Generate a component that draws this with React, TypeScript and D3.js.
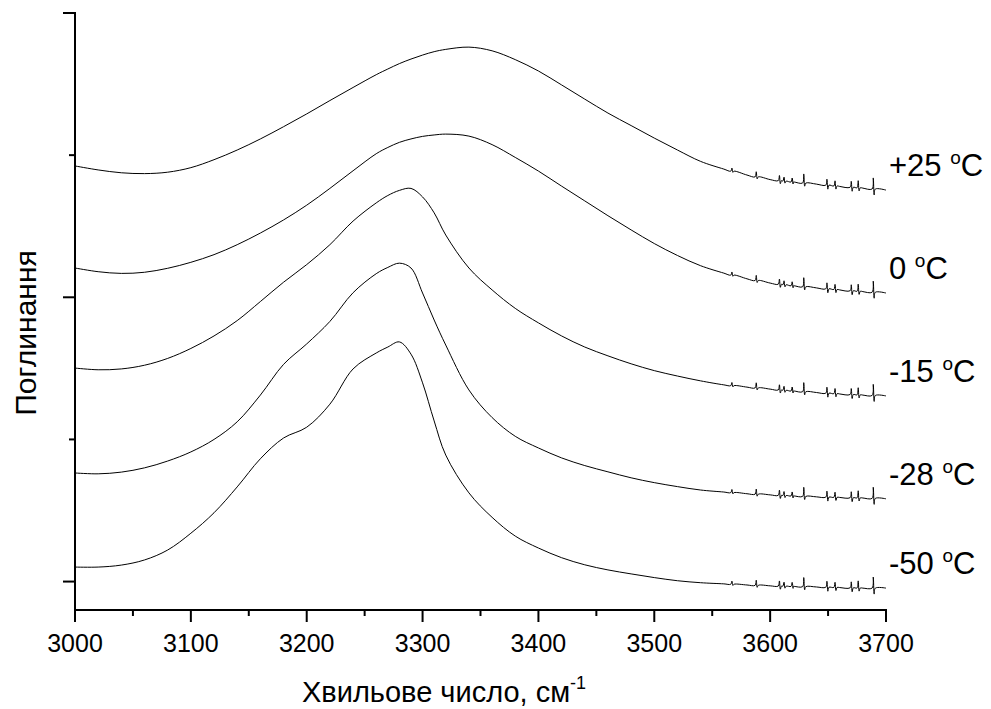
import React from "react";
import * as d3 from "d3";

const layout = {
    width: 991,
    height: 709,
    left: 75,
    right: 886,
    top: 13,
    bottom: 610
};

// wavenumbers, cm-1
const wavenumbers = [
    3000, 3020, 3040, 3060, 3080, 3100, 3120, 3140, 3160, 3180, 3200, 3220,
    3240, 3260, 3270, 3280, 3290, 3300, 3310, 3320, 3340, 3360, 3380, 3400,
    3420, 3440, 3460, 3480, 3500, 3520, 3540, 3560, 3580, 3600, 3620, 3640,
    3660, 3680, 3700
];

// absorbance (stacked, arbitrary units)
const absPlus25 = [
    1.462, 1.448, 1.438, 1.435, 1.440, 1.456, 1.484, 1.518, 1.557, 1.600, 1.645, 1.692,
    1.738, 1.783, 1.803, 1.822, 1.838, 1.852, 1.864, 1.872, 1.880, 1.867, 1.836, 1.796,
    1.747, 1.697, 1.648, 1.604, 1.560, 1.518, 1.478, 1.451, 1.430, 1.414, 1.405, 1.398,
    1.390, 1.384, 1.377
];
const absZero = [
    1.103, 1.090, 1.084, 1.088, 1.102, 1.123, 1.150, 1.185, 1.226, 1.272, 1.324, 1.383,
    1.445, 1.505, 1.527, 1.545, 1.557, 1.566, 1.571, 1.574, 1.567, 1.537, 1.492, 1.444,
    1.391, 1.339, 1.287, 1.237, 1.189, 1.147, 1.111, 1.085, 1.065, 1.050, 1.040, 1.033,
    1.026, 1.020, 1.015
];
const absMinus15 = [
    0.751, 0.745, 0.748, 0.761, 0.785, 0.820, 0.864, 0.918, 0.985, 1.053, 1.115, 1.185,
    1.268, 1.332, 1.358, 1.376, 1.383, 1.353, 1.297, 1.219, 1.103, 1.026, 0.961, 0.910,
    0.864, 0.825, 0.794, 0.766, 0.742, 0.723, 0.706, 0.692, 0.684, 0.677, 0.670, 0.665,
    0.660, 0.656, 0.653
];
const absMinus28 = [
    0.382, 0.379, 0.385, 0.400, 0.424, 0.456, 0.500, 0.562, 0.656, 0.764, 0.836, 0.915,
    1.016, 1.083, 1.105, 1.120, 1.103, 1.015, 0.920, 0.832, 0.674, 0.577, 0.511, 0.470,
    0.435, 0.408, 0.386, 0.365, 0.348, 0.334, 0.322, 0.315, 0.309, 0.305, 0.301, 0.298,
    0.296, 0.294, 0.291
];
const absMinus50 = [
    0.051, 0.051, 0.058, 0.076, 0.111, 0.170, 0.242, 0.333, 0.432, 0.505, 0.543, 0.624,
    0.748, 0.804, 0.825, 0.843, 0.800, 0.699, 0.565, 0.445, 0.312, 0.226, 0.160, 0.118,
    0.084, 0.059, 0.041, 0.027, 0.014, 0.003, -0.004, -0.008, -0.012, -0.015, -0.017, -0.019,
    -0.021, -0.023, -0.023
];

const temperatures = ["+25", "0", "-15", "-28", "-50"];
const spectra = [absPlus25, absZero, absMinus15, absMinus28, absMinus50];

// water vapour lines seen on every trace
const vaporLines = [3567, 3588, 3608, 3612, 3619, 3629, 3649, 3656, 3670, 3676, 3689];
const vaporUp = [0.011, 0.018, 0.018, 0.014, 0.014, 0.032, 0.021, 0.018, 0.021, 0.025, 0.039];
const vaporDown = [0.004, 0.007, 0.011, 0.007, 0.007, 0.011, 0.014, 0.011, 0.014, 0.011, 0.021];

const xMajor = d3.range(3000, 3701, 100);
const xMinor = d3.range(3050, 3700, 100);
const yMajor = [0, 1, 2];
const yMinor = [0.5, 1.5];

const font = "Liberation Sans, Arial, Helvetica, sans-serif";

function App() {
    const xScale = d3.scaleLinear().domain([3000, 3700]).range([layout.left, layout.right]);
    const yScale = d3.scaleLinear().domain([-0.1, 2.0]).range([layout.bottom, layout.top]);

    const lineGenerator = d3
        .line<[number, number]>()
        .x(d => xScale(d[0]))
        .y(d => yScale(d[1]))
        .curve(d3.curveCatmullRom.alpha(0.5));

    const lines = spectra.map((values, key) => {
        const base = d3.scaleLinear().domain(wavenumbers).range(values);
        let points: [number, number][] = wavenumbers.map((w, i) => [w, values[i]]);
        vaporLines.forEach((w, i) => {
            const b = base(w);
            points.push([w - 1, b]);
            points.push([w, b + vaporUp[i]]);
            points.push([w + 0.8, b - vaporDown[i]]);
            points.push([w + 1.8, b]);
        });
        points = points.sort((a, b) => a[0] - b[0]);
        const last = values[values.length - 1];
        return (
            <g key={key}>
                <path d={lineGenerator(points) || ""} fill="none" stroke="#000" strokeWidth={1} />
                <text x={889} y={yScale(last) - 14} fontSize={31} fontFamily={font}>
                    <tspan>{temperatures[key] + " "}</tspan>
                    <tspan fontSize={19} dy={-12}>o</tspan>
                    <tspan dy={12}>C</tspan>
                </text>
            </g>
        );
    });

    return (
        <svg
            width={layout.width}
            height={layout.height}
            style={{ position: "absolute", left: 0, top: 0, background: "#fff" }}
        >
            {lines}
            <g stroke="#000" strokeWidth={2}>
                <line x1={layout.left} x2={layout.left} y1={layout.top - 1} y2={layout.bottom + 1} />
                <line x1={layout.left - 1} x2={layout.right + 1} y1={layout.bottom} y2={layout.bottom} />
                {xMajor.map(t => (
                    <line key={t} x1={xScale(t)} x2={xScale(t)} y1={layout.bottom} y2={layout.bottom + 12} />
                ))}
                {xMinor.map(t => (
                    <line key={t} x1={xScale(t)} x2={xScale(t)} y1={layout.bottom} y2={layout.bottom + 6} />
                ))}
                {yMajor.map(t => (
                    <line key={t} x1={layout.left - 12} x2={layout.left} y1={yScale(t)} y2={yScale(t)} />
                ))}
                {yMinor.map(t => (
                    <line key={t} x1={layout.left - 6} x2={layout.left} y1={yScale(t)} y2={yScale(t)} />
                ))}
            </g>
            {xMajor.map(t => (
                <text key={t} x={xScale(t)} y={652} textAnchor="middle" fontSize={25} fontFamily={font}>
                    {t}
                </text>
            ))}
            <text x={302} y={702} fontSize={29} fontFamily={font}>
                <tspan>Хвильове число, см</tspan>
                <tspan fontSize={18} dy={-13}>-1</tspan>
            </text>
            <text
                transform={`translate(36,333) rotate(-90)`}
                textAnchor="middle"
                fontSize={30}
                fontFamily={font}
            >
                Поглинання
            </text>
        </svg>
    );
}

export default App;
